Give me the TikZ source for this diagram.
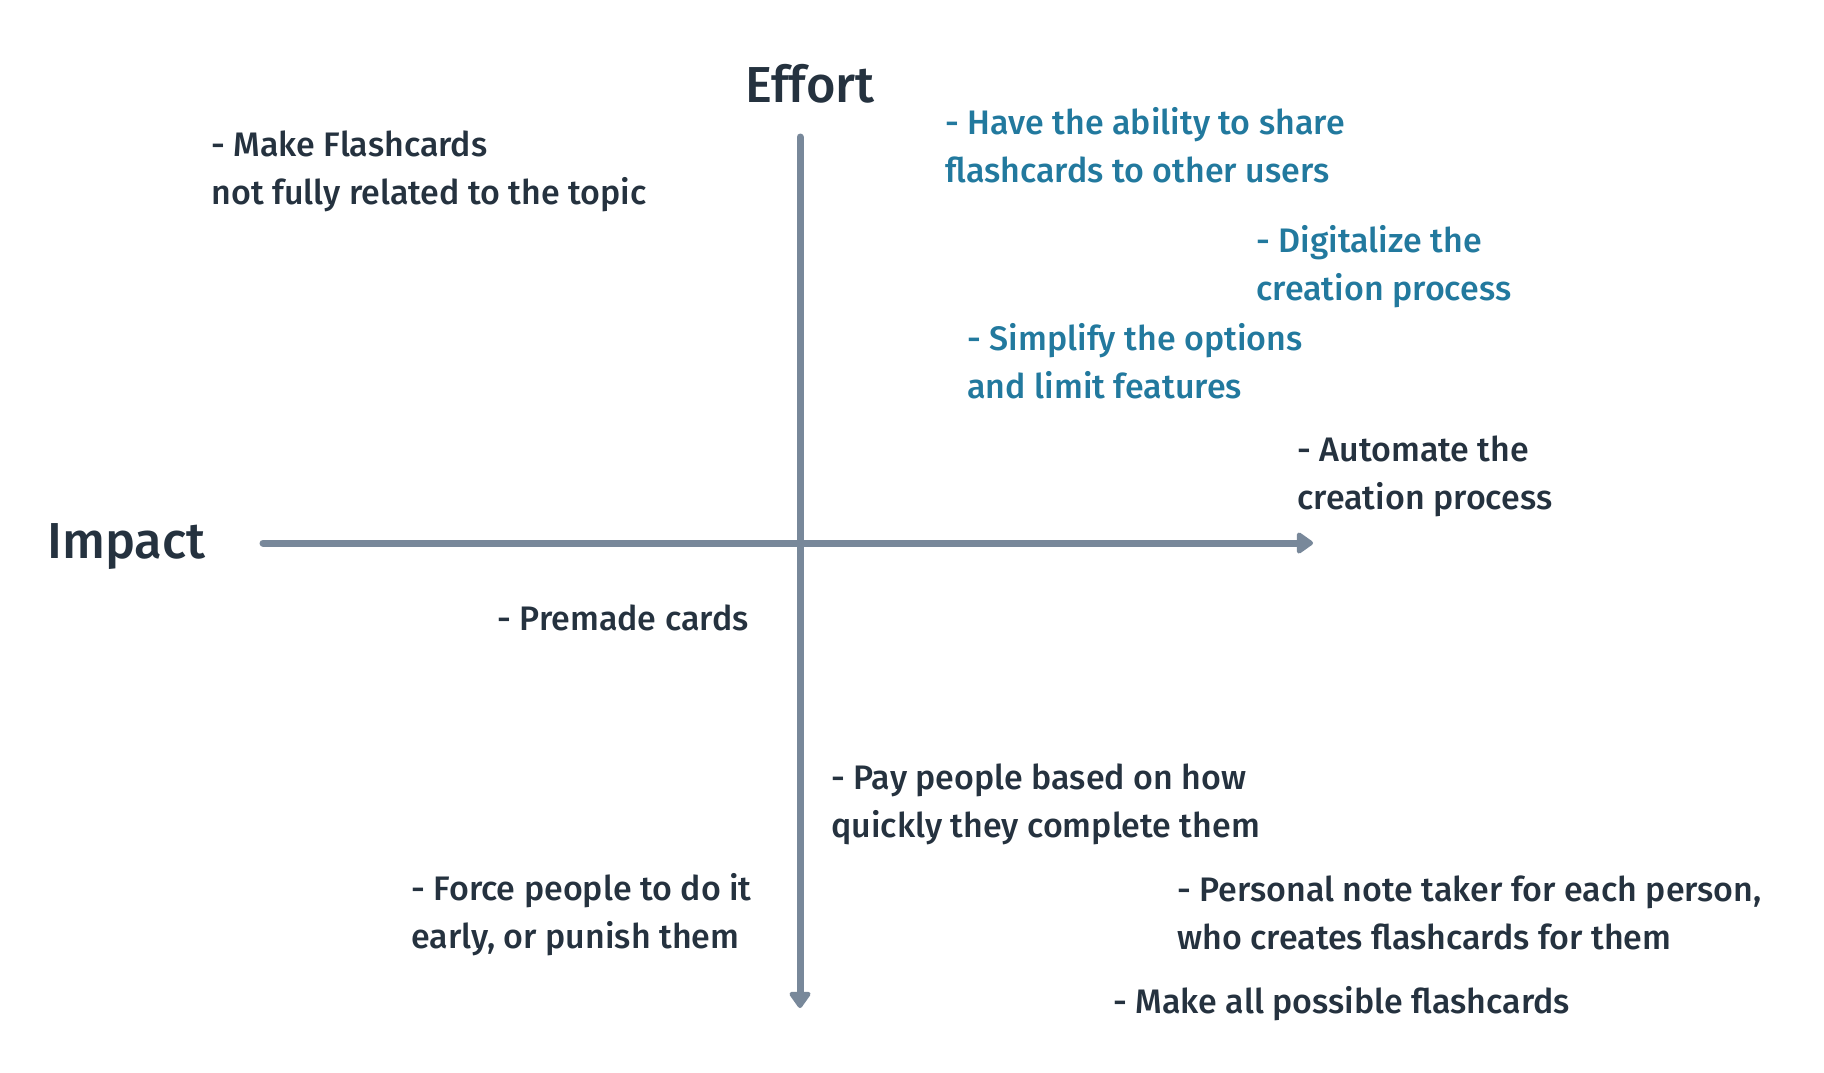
\documentclass[tikz,border=0pt]{standalone}
\usepackage{fontspec}
\setmainfont{Fira Sans}[UprightFont={* Medium}]
\usetikzlibrary{arrows.meta}
\definecolor{inkdark}{HTML}{25323F}
\definecolor{inkblue}{HTML}{22799E}
\definecolor{axisgray}{HTML}{78889A}
\begin{document}
\begin{tikzpicture}[x=0.5pt,y=-0.5pt,
  axis/.style={draw=axisgray, line width=3.5pt, line cap=round,
    -{Triangle[length=9pt,width=12pt,round]}},
  title/.style={text=inkdark, font=\fontsize{25.3pt}{28pt}\selectfont, inner sep=0pt},
  idea/.style={text=inkdark, font=\fontsize{17pt}{24pt}\selectfont, align=left, anchor=west, inner sep=0pt},
  ideablue/.style={idea, text=inkblue}]
\useasboundingbox (0,0) rectangle (1824,1072);

% axes
\coordinate (hstart) at (263,543);
\coordinate (hend) at (1313,543);
\coordinate (vstart) at (800,137);
\coordinate (vend) at (800,1008);
\draw[axis] (hstart) -- (hend);
\draw[axis] (vstart) -- (vend);

% axis titles
\node[title] (effort) at (810,84) {Effort};
\node[title, anchor=west] (impact) at (47,547) {Impact};

% ideas
\node[idea] (flash) at (211,171.5) {- Make Flashcards\\not fully related to the topic};
\node[ideablue] (share) at (945,145.5) {- Have the ability to share\\flashcards to other users};
\node[ideablue] (digital) at (1256,267) {- Digitalize the\\creation process};
\node[ideablue] (simplify) at (967,361.5) {- Simplify the options\\and limit features};
\node[idea] (automate) at (1297,476.5) {- Automate the\\creation process};
\node[idea] (premade) at (497,617.5) {- Premade cards};
\node[idea] (pay) at (831,804.5) {- Pay people based on how\\quickly they complete them};
\node[idea] (force) at (411,915) {- Force people to do it\\early, or punish them};
\node[idea] (notetaker) at (1177,912.5) {- Personal note taker for each person,\\who creates flashcards for them};
\node[idea] (allcards) at (1113,1004) {- Make all possible flashcards};
\end{tikzpicture}
\end{document}
